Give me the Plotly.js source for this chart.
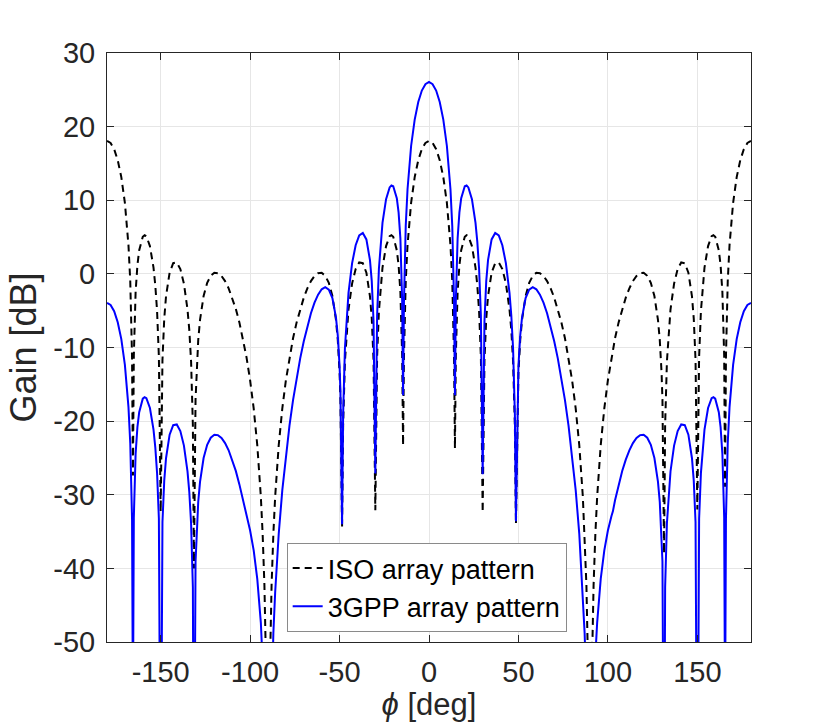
<!DOCTYPE html>
<html>
<head>
<meta charset="utf-8">
<script src="https://cdn.plot.ly/plotly-3.0.1.min.js"></script>
<style>
  html, body { margin: 0; padding: 0; background: #fff; }
  #chart { width: 830px; height: 722px; }
</style>
</head>
<body>
<div id="chart"></div>
<script>
// azimuth angle [deg], left half (-180 .. -2) then right half (0 .. 180)
var phiLeft = [
    -180, -178, -176, -174, -172, -170, -168, -167, -166,
    -165.5, -165, -164, -163, -162, -160, -159, -158, -156, -154, -153, -152, -151,
    -150, -149, -148, -147, -145, -143, -141, -139, -137, -135, -134, -133, -132,
    -131.4, -130.5, -130, -129, -128, -126, -124, -122, -120, -118, -116, -114, -112,
    -110, -108, -106, -104, -102.8, -102, -100, -98, -96, -94, -93, -92, -91,
    -90, -89, -88, -87, -86, -84, -82, -80, -78, -76, -74, -72, -70, -68, -66, -64,
    -62, -60, -58, -56, -54, -52, -51, -50, -49.5,
    -48.6, -48, -47, -46, -45, -43, -41, -39, -37, -35, -33, -32, -31,
    -30, -29, -28, -27, -26, -24, -22, -21, -20, -18, -17, -16, -15,
    -14.5, -14, -13, -12, -10, -8, -6, -4, -2
];
var phiRight = [
    0, 2, 4, 6, 8, 10, 12, 13, 14,
    14.5, 15, 16, 17, 18, 20, 21, 22, 24, 26, 27, 28, 29,
    30, 31, 32, 33, 35, 37, 39, 41, 43, 45, 46, 47, 48,
    48.6, 49.5, 50, 51, 52, 54, 56, 58, 60, 62, 64, 66, 68, 70, 72, 74, 76, 78,
    80, 82, 84, 86, 87, 88, 89,
    90, 91, 92, 93, 94, 96, 98, 100, 102, 102.8, 104, 106, 108, 110, 112, 114,
    116, 118, 120, 122, 124, 126, 128, 129, 130, 130.5,
    131.4, 132, 133, 134, 135, 137, 139, 141, 143, 145, 147, 148, 149,
    150, 151, 152, 153, 154, 156, 158, 159, 160, 162, 163, 164, 165,
    165.5, 166, 167, 168, 170, 172, 174, 176, 178, 180
];

// ISO array pattern [dB]
var isoLeft = [
    18.06, 17.78, 16.94, 15.44, 13.14, 9.65, 3.90, -1.00, -11.27,
    -27.4, -11.07, -2.44, 1.18, 3.21, 5.05, 5.26, 5.11, 3.78, 0.84, -1.56, -5.07, -11.23,
    -32.3, -11.71, -6.08, -3.04, 0.16, 1.45, 1.55, 0.66, -1.32, -4.84, -7.61, -11.87, -20.57,
    -40, -17.06, -13.37, -8.97, -6.26, -3.01, -1.22, -0.26, 0.14, 0.10, -0.28, -0.98, -1.96,
    -3.23, -4.76, -6.59, -8.74, -10.25, -11.34, -14.45, -18.28, -23.25, -30.26, -35.29, -42.3, -54.4,
    -80, -54.4, -42.3, -35.29, -30.26, -23.25, -18.28, -14.45, -11.34, -8.74, -6.59, -4.76, -3.23, -1.96, -0.98, -0.28,
    0.10, 0.14, -0.26, -1.22, -3.01, -6.26, -8.97, -13.37, -17.06,
    -34.5, -20.57, -11.87, -7.61, -4.84, -1.32, 0.66, 1.55, 1.45, 0.16, -3.04, -6.08, -11.71,
    -32.1, -11.23, -5.07, -1.56, 0.84, 3.78, 5.11, 5.26, 5.05, 3.21, 1.18, -2.44, -11.07,
    -23.3, -11.27, -1.00, 3.90, 9.65, 13.14, 15.44, 16.94, 17.78
];
var isoRight = [
    18.06, 17.78, 16.94, 15.44, 13.14, 9.65, 3.90, -1.00, -11.27,
    -23.7, -11.07, -2.44, 1.18, 3.21, 5.05, 5.26, 5.11, 3.78, 0.84, -1.56, -5.07, -11.23,
    -32.4, -11.71, -6.08, -3.04, 0.16, 1.45, 1.55, 0.66, -1.32, -4.84, -7.61, -11.87, -20.57,
    -34.0, -17.06, -13.37, -8.97, -6.26, -3.01, -1.22, -0.26, 0.14, 0.10, -0.28, -0.98, -1.96, -3.23, -4.76, -6.59, -8.74, -11.34,
    -14.45, -18.28, -23.25, -30.26, -35.29, -42.3, -54.4,
    -80, -54.4, -42.3, -35.29, -30.26, -23.25, -18.28, -14.45, -11.34, -10.25, -8.74, -6.59, -4.76, -3.23, -1.96, -0.98,
    -0.28, 0.10, 0.14, -0.26, -1.22, -3.01, -6.26, -8.97, -13.37, -17.06,
    -38, -20.57, -11.87, -7.61, -4.84, -1.32, 0.66, 1.55, 1.45, 0.16, -3.04, -6.08, -11.71,
    -32, -11.23, -5.07, -1.56, 0.84, 3.78, 5.11, 5.26, 5.05, 3.21, 1.18, -2.44, -11.07,
    -28.9, -11.27, -1.00, 3.90, 9.65, 13.14, 15.44, 16.94, 17.78, 18.06
];

// 3GPP array pattern [dB]
var gppLeft = [
    -3.94, -4.22, -5.06, -6.56, -8.86, -12.35, -18.10, -23.00, -33.27,
    -60, -33.07, -24.44, -20.82, -18.79, -16.95, -16.74, -16.89, -18.22, -21.16, -23.56, -27.07, -33.23,
    -80, -33.71, -28.08, -25.04, -21.84, -20.55, -20.45, -21.34, -23.32, -26.84, -29.61, -33.87, -42.57,
    -80, -39.06, -35.37, -30.97, -28.26, -25.01, -23.22, -22.26, -21.86, -21.90, -22.28, -22.98, -23.96,
    -25.23, -26.76, -28.59, -30.74, -32.25, -32.89, -34.85, -37.56, -41.43, -47.36, -51.86, -58.3, -69.9,
    -80, -68.9, -56.3, -48.79, -43.27, -35.29, -29.38, -24.63, -20.62, -17.15, -14.14, -11.48, -9.15, -7.09, -5.35, -3.91,
    -2.82, -2.09, -1.81, -2.13, -3.29, -5.94, -8.36, -12.47, -16.02,
    -34.0, -19.11, -10.14, -5.62, -2.59, 1.43, 3.89, 5.23, 5.56, 4.68, 1.87, -0.99, -6.44,
    -27.1, -5.62, 0.70, 4.37, 6.92, 10.14, 11.74, 12.01, 11.91, 10.29, 8.36, 4.83, -3.71,
    -16.5, -3.83, 6.52, 11.49, 17.37, 20.96, 23.34, 24.90, 25.77
];
var gppRight = [
    26.06, 25.77, 24.90, 23.34, 20.96, 17.37, 11.49, 6.52, -3.83,
    -16.5, -3.71, 4.83, 8.36, 10.29, 11.91, 12.01, 11.74, 10.14, 6.92, 4.37, 0.70, -5.62,
    -27.2, -6.44, -0.99, 1.87, 4.68, 5.56, 5.23, 3.89, 1.43, -2.59, -5.62, -10.14, -19.11,
    -33.6, -16.02, -12.47, -8.36, -5.94, -3.29, -2.13, -1.81, -2.09, -2.82, -3.91, -5.35, -7.09, -9.15, -11.48, -14.14, -17.15, -20.62,
    -24.63, -29.38, -35.29, -43.27, -48.79, -56.3, -68.9,
    -80, -69.9, -58.3, -51.86, -47.36, -41.43, -37.56, -34.85, -32.89, -32.25, -30.74, -28.59, -26.76, -25.23, -23.96, -22.98,
    -22.28, -21.90, -21.86, -22.26, -23.22, -25.01, -28.26, -30.97, -35.37, -39.06,
    -80, -42.57, -33.87, -29.61, -26.84, -23.32, -21.34, -20.45, -20.55, -21.84, -25.04, -28.08, -33.71,
    -80, -33.23, -27.07, -23.56, -21.16, -18.22, -16.89, -16.74, -16.95, -18.79, -20.82, -24.44, -33.07,
    -60, -33.27, -23.00, -18.10, -12.35, -8.86, -6.56, -5.06, -4.22, -3.94
];

// tick positions and labels (plain hyphen as in the original)
var xTicks = [-150, -100, -50, 0, 50, 100, 150];
var xTickText = ['-150', '-100', '-50', '0', '50', '100', '150'];
var yTicks = [-50, -40, -30, -20, -10, 0, 10, 20, 30];
var yTickText = ['-50', '-40', '-30', '-20', '-10', '0', '10', '20', '30'];

var phi = phiLeft.concat(phiRight);
var isoGain = isoLeft.concat(isoRight);
var gppGain = gppLeft.concat(gppRight);

var fontFamily = 'Liberation Sans, Arial, Helvetica, sans-serif';
var axisColor = '#262626';

var isoTrace = {
    x: phi,
    y: isoGain,
    mode: 'lines',
    name: 'ISO array pattern',
    line: { color: '#000000', width: 2, dash: '7px,5px' }
};

var gppTrace = {
    x: phi,
    y: gppGain,
    mode: 'lines',
    name: '3GPP array pattern',
    line: { color: '#0000ff', width: 2 }
};

var layout = {
    width: 830,
    height: 722,
    margin: { l: 107, r: 79, t: 53, b: 80 },
    paper_bgcolor: '#ffffff',
    plot_bgcolor: '#ffffff',
    font: { family: fontFamily, color: axisColor },
    showlegend: true,
    legend: {
        x: 0.279, y: 0.017, xanchor: 'left', yanchor: 'bottom',
        bgcolor: '#ffffff',
        bordercolor: '#8a8a8a',
        borderwidth: 1,
        font: { family: fontFamily, size: 27, color: '#000000' }
    },
    xaxis: {
        range: [-180, 180],
        tickvals: xTicks,
        ticktext: xTickText,
        ticks: 'inside',
        ticklen: 7,
        tickcolor: axisColor,
        showline: true,
        linecolor: axisColor,
        linewidth: 1,
        mirror: 'ticks',
        showgrid: true,
        gridcolor: '#e6e6e6',
        zeroline: false,
        tickfont: { family: fontFamily, size: 29, color: axisColor },
        ticklabelstandoff: 4,
        title: {
            text: '<i>ϕ</i> [deg]',
            font: { family: fontFamily, size: 31, color: axisColor },
            standoff: 10
        }
    },
    yaxis: {
        range: [-50, 30],
        tickvals: yTicks,
        ticktext: yTickText,
        ticks: 'inside',
        ticklen: 7,
        tickcolor: axisColor,
        showline: true,
        linecolor: axisColor,
        linewidth: 1,
        mirror: 'ticks',
        showgrid: true,
        gridcolor: '#e6e6e6',
        zeroline: false,
        tickfont: { family: fontFamily, size: 29, color: axisColor },
        ticklabelstandoff: 5,
        title: {
            text: 'Gain [dB]',
            font: { family: fontFamily, size: 36, color: axisColor },
            standoff: 5
        }
    }
};

Plotly.newPlot('chart', [isoTrace, gppTrace], layout, { displayModeBar: false, staticPlot: true });
</script>
</body>
</html>
